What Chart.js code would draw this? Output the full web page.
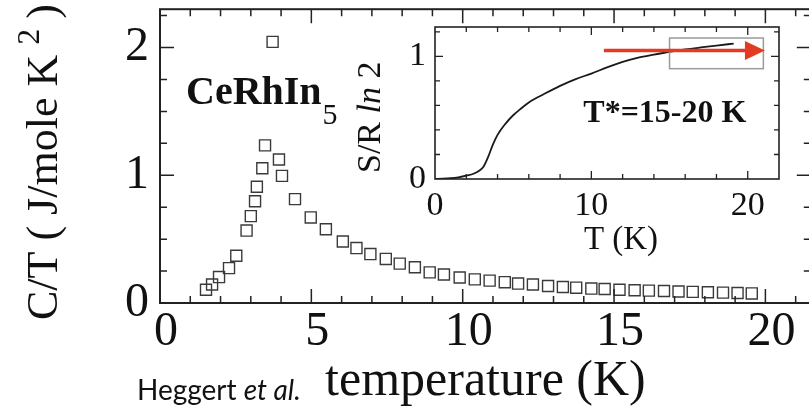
<!DOCTYPE html>
<html>
<head>
<meta charset="utf-8">
<script src="https://cdn.jsdelivr.net/npm/chart.js@4.4.0/dist/chart.umd.min.js"></script>
<style>
  html, body { margin: 0; padding: 0; background: #fff; overflow: hidden; }
  #wrap { position: relative; width: 809px; height: 411px; overflow: hidden; background: #fff; }
  #mainChart { position: absolute; left: 0; top: 0; }
  #insetChart { position: absolute; left: 330px; top: 0; }
</style>
</head>
<body>
<div id="wrap">
  <canvas id="mainChart" width="820" height="411"></canvas>
  <canvas id="insetChart" width="470" height="270"></canvas>
</div>
<script>
// specific heat C/T of CeRhIn5 (open squares)
const tempK = [1.52, 1.72, 1.95, 2.28, 2.52, 2.86, 3.0, 3.14, 3.2, 3.38, 3.47, 3.72, 3.93, 4.03,
  4.46, 4.98, 5.48, 6.04, 6.49, 6.95, 7.46, 7.92, 8.42, 8.91, 9.38, 9.9, 10.4, 10.89, 11.39,
  11.83, 12.32, 12.82, 13.31, 13.75, 14.25, 14.69, 15.18, 15.68, 16.15, 16.65, 17.13, 17.6,
  18.1, 18.6, 19.08, 19.55];
const cOverT = [0.104, 0.145, 0.203, 0.273, 0.37, 0.567, 0.68, 0.797, 0.91, 1.055, 1.234, 2.044,
  1.123, 0.995, 0.813, 0.67, 0.577, 0.481, 0.43, 0.383, 0.345, 0.308, 0.28, 0.24, 0.223, 0.2,
  0.185, 0.175, 0.163, 0.152, 0.145, 0.133, 0.125, 0.12, 0.113, 0.11, 0.104, 0.1, 0.097, 0.094,
  0.09, 0.087, 0.084, 0.081, 0.078, 0.075];
const mainXTicks = [0, 5, 10, 15, 20];
const mainYTicks = [0, 1, 2];

// inset: entropy S / (R ln2)
const insetT = [0, 0.5, 1, 1.5, 2, 2.5, 2.8, 3.1, 3.4, 3.7, 4.0, 4.5, 5, 5.5, 6, 7, 8, 9, 10,
  11, 12, 13, 14, 15, 16, 17, 18, 19.1];
const insetS = [0, 0.002, 0.006, 0.014, 0.027, 0.045, 0.065, 0.1, 0.18, 0.28, 0.36, 0.45, 0.52,
  0.575, 0.625, 0.695, 0.76, 0.815, 0.86, 0.91, 0.955, 0.99, 1.015, 1.038, 1.057, 1.073, 1.088,
  1.105];
const insetXTicks = [0, 10, 20];
const insetYTicks = [0, 1];

const SERIF = "'Liberation Serif', 'DejaVu Serif', serif";
Chart.defaults.font.family = SERIF;
Chart.defaults.color = "#111";

// keep the plot box exactly where the layout padding puts it
function noEdgePadding(s) {
  s.paddingTop = 0; s.paddingBottom = 0; s.paddingLeft = 0; s.paddingRight = 0;
}

// box frame with inward minor/major ticks on all four sides
const frameTicks = {
  id: "frameTicks",
  afterDatasetsDraw(chart, args, o) {
    const { ctx, chartArea: a, scales: { x, y } } = chart;
    ctx.save();
    ctx.strokeStyle = o.color;
    ctx.lineWidth = o.tickWidth;
    ctx.beginPath();
    for (let i = 1; i * o.xStep < x.max - 1e-6; i++) {
      const v = i * o.xStep;
      const len = Math.abs(v / o.xMajor - Math.round(v / o.xMajor)) < 1e-6 ? o.major : o.minor;
      const px = x.getPixelForValue(v);
      ctx.moveTo(px, a.bottom); ctx.lineTo(px, a.bottom - len);
      ctx.moveTo(px, a.top); ctx.lineTo(px, a.top + len);
    }
    for (let i = 1; i * o.yStep < y.max - 1e-6; i++) {
      const v = i * o.yStep;
      const len = Math.abs(v / o.yMajor - Math.round(v / o.yMajor)) < 1e-6 ? o.major : o.minor;
      const py = y.getPixelForValue(v);
      ctx.moveTo(a.left, py); ctx.lineTo(a.left + len, py);
      ctx.moveTo(a.right, py); ctx.lineTo(a.right - len, py);
    }
    ctx.stroke();
    ctx.lineWidth = o.frameWidth;
    ctx.strokeRect(a.left, a.top, a.right - a.left, a.bottom - a.top);
    ctx.restore();
  }
};

// compound name, y title with superscript, credit line
const mainText = {
  id: "mainText",
  afterDraw(chart) {
    const { ctx, scales: { x, y } } = chart;
    ctx.save();
    ctx.fillStyle = "#111";
    ctx.textBaseline = "alphabetic";
    ctx.textAlign = "left";

    ctx.font = "bold 40px " + SERIF;
    const nx = x.getPixelForValue(0.86), ny = y.getPixelForValue(1.56);
    ctx.fillText("CeRhIn", nx, ny);
    const w = ctx.measureText("CeRhIn").width;
    ctx.font = "30px " + SERIF;
    ctx.fillText("5", nx + w + 1, ny + 20);

    ctx.save();
    ctx.translate(57, 320);
    ctx.rotate(-Math.PI / 2);
    ctx.font = "44px " + SERIF;
    const main = "C/T ( J/mole K";
    ctx.fillText(main, 0, 0);
    const mw = ctx.measureText(main).width;
    ctx.font = "32px " + SERIF;
    ctx.fillText("2", mw + 10, -18);
    ctx.font = "44px " + SERIF;
    ctx.fillText(")", mw + 36, 0);
    ctx.restore();

    ctx.font = "28px Lato, 'Open Sans', sans-serif";
    ctx.fillText("Heggert ", 137, 400);
    const hw = ctx.measureText("Heggert ").width;
    ctx.font = "italic 28px Lato, 'Open Sans', sans-serif";
    ctx.fillText("et al.", 137 + hw, 400);
    ctx.restore();
  }
};

new Chart(document.getElementById("mainChart"), {
  type: "scatter",
  data: {
    datasets: [{
      data: tempK.map((t, i) => ({ x: t, y: cOverT[i] })),
      pointStyle: "rect",
      pointRadius: 7.8,
      borderColor: "#3a3a3a",
      borderWidth: 1.4,
      backgroundColor: "rgba(0,0,0,0)",
      showLine: false
    }]
  },
  options: {
    responsive: false,
    animation: false,
    layout: { padding: { top: 6, right: 8, left: 0, bottom: 0 } },
    plugins: {
      legend: { display: false },
      tooltip: { enabled: false },
      frameTicks: { color: "#222", tickWidth: 1.5, frameWidth: 2, xStep: 1, xMajor: 5,
        yStep: 0.25, yMajor: 1, minor: 7, major: 14 }
    },
    scales: {
      x: {
        type: "linear", min: 0, max: 21.5,
        afterBuildTicks: s => { s.ticks = mainXTicks.map(v => ({ value: v })); },
        afterFit: s => { s.height = 108; noEdgePadding(s); },
        grid: { display: false, drawTicks: false },
        border: { display: false },
        ticks: { font: { size: 48, lineHeight: 1 }, padding: 5, labelOffset: 6, maxRotation: 0 },
        title: { display: true, text: "temperature (K)", font: { size: 50, lineHeight: 1 },
          padding: { top: 0, bottom: 4 } }
      },
      y: {
        type: "linear", min: 0, max: 2.3,
        afterBuildTicks: s => { s.ticks = mainYTicks.map(v => ({ value: v })); },
        afterFit: s => { s.width = 160; noEdgePadding(s); },
        grid: { display: false, drawTicks: false },
        border: { display: false },
        ticks: { font: { size: 48, lineHeight: 1 }, padding: 11 }
      }
    }
  },
  plugins: [frameTicks, mainText]
});

// inset annotations: highlight box, arrow, T* label, axis titles
const insetText = {
  id: "insetText",
  afterDraw(chart) {
    const { ctx, scales: { x, y } } = chart;
    ctx.save();
    ctx.strokeStyle = "#9a9a9a";
    ctx.lineWidth = 1.5;
    const bx0 = x.getPixelForValue(15), bx1 = x.getPixelForValue(21);
    const by0 = y.getPixelForValue(1.15), by1 = y.getPixelForValue(0.9);
    ctx.strokeRect(bx0, by0, bx1 - bx0, by1 - by0);

    const ay = y.getPixelForValue(1.049);
    const ax0 = x.getPixelForValue(10.8), ax1 = x.getPixelForValue(21.1);
    ctx.strokeStyle = "#e33b22";
    ctx.fillStyle = "#e33b22";
    ctx.lineWidth = 3.5;
    ctx.beginPath();
    ctx.moveTo(ax0, ay); ctx.lineTo(ax1 - 16, ay);
    ctx.stroke();
    ctx.beginPath();
    ctx.moveTo(ax1, ay);
    ctx.lineTo(ax1 - 20, ay - 9.5);
    ctx.lineTo(ax1 - 20, ay + 9.5);
    ctx.closePath();
    ctx.fill();

    ctx.fillStyle = "#111";
    ctx.font = "bold 32px " + SERIF;
    ctx.textAlign = "center";
    ctx.textBaseline = "alphabetic";
    ctx.fillText("T*=15-20 K", x.getPixelForValue(14.7), y.getPixelForValue(0.469));

    ctx.font = "33px " + SERIF;
    ctx.fillText("T (K)", 291, 249);

    ctx.save();
    ctx.translate(50, 173);
    ctx.rotate(-Math.PI / 2);
    ctx.textAlign = "left";
    ctx.font = "34px " + SERIF;
    ctx.fillText("S/R ", 0, 0);
    let off = ctx.measureText("S/R ").width;
    ctx.font = "italic 34px " + SERIF;
    ctx.fillText("ln", off, 0);
    off += ctx.measureText("ln ").width;
    ctx.font = "34px " + SERIF;
    ctx.fillText("2", off, 0);
    ctx.restore();
    ctx.restore();
  }
};

new Chart(document.getElementById("insetChart"), {
  type: "scatter",
  data: {
    datasets: [{
      data: insetT.map((t, i) => ({ x: t, y: insetS[i] })),
      showLine: true,
      pointRadius: 0,
      borderColor: "#1a1a1a",
      borderWidth: 1.8,
      cubicInterpolationMode: "monotone",
      fill: false
    }]
  },
  options: {
    responsive: false,
    animation: false,
    layout: { padding: { top: 27, right: 21, left: 0, bottom: 0 } },
    plugins: {
      legend: { display: false },
      tooltip: { enabled: false },
      frameTicks: { color: "#222", tickWidth: 1.3, frameWidth: 1.6, xStep: 2, xMajor: 10,
        yStep: 0.2, yMajor: 1, minor: 5, major: 8 }
    },
    scales: {
      x: {
        type: "linear", min: 0, max: 22,
        afterBuildTicks: s => { s.ticks = insetXTicks.map(v => ({ value: v })); },
        afterFit: s => { s.height = 91; noEdgePadding(s); },
        grid: { display: false, drawTicks: false },
        border: { display: false },
        ticks: { font: { size: 34, lineHeight: 1 }, padding: 10, maxRotation: 0 }
      },
      y: {
        type: "linear", min: 0, max: 1.24,
        afterBuildTicks: s => { s.ticks = insetYTicks.map(v => ({ value: v })); },
        afterFit: s => { s.width = 105; noEdgePadding(s); },
        grid: { display: false, drawTicks: false },
        border: { display: false },
        ticks: { font: { size: 34, lineHeight: 1 }, padding: 9 }
      }
    }
  },
  plugins: [frameTicks, insetText]
});
</script>
</body>
</html>
